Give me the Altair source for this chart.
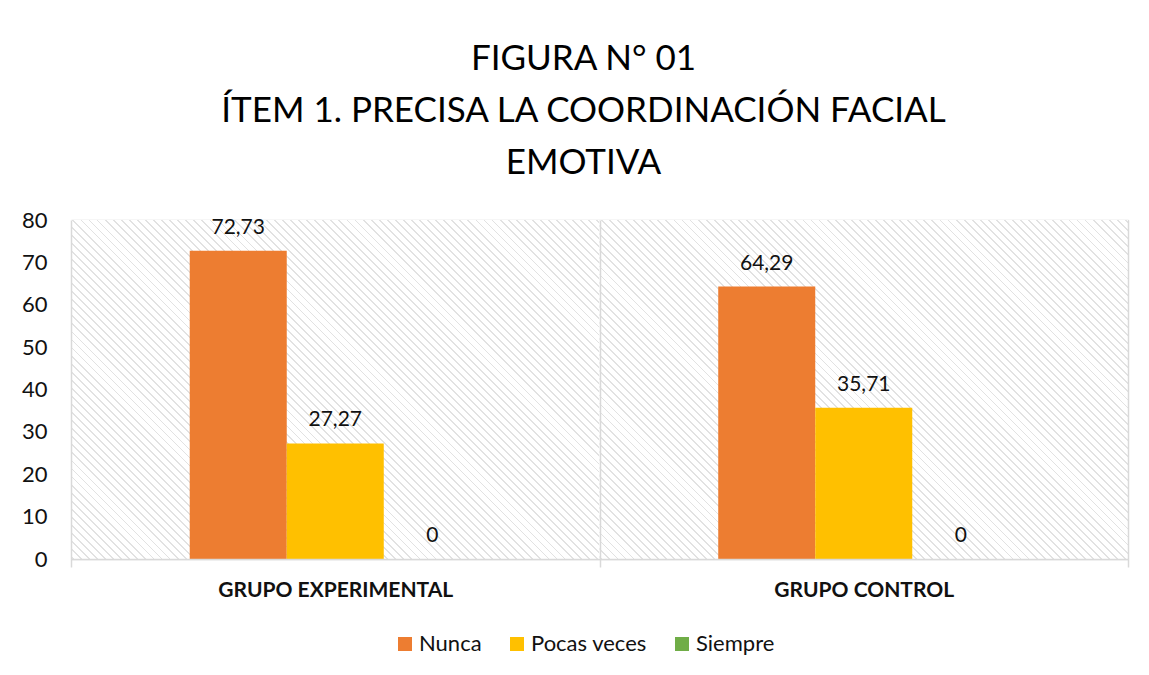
import math
import altair as alt
import pandas as pd

# ---- data ----
groups = ["GRUPO EXPERIMENTAL", "GRUPO CONTROL"]
series = ["Nunca", "Pocas veces", "Siempre"]
nunca = [72.73, 64.29]
pocas_veces = [27.27, 35.71]
siempre = [0, 0]
colors = ["#ED7D31", "#FFC000", "#70AD47"]
y_ticks = [0, 10, 20, 30, 40, 50, 60, 70, 80]
title_lines = ["FIGURA N° 01", "ÍTEM 1. PRECISA LA COORDINACIÓN FACIAL", "EMOTIVA"]

rows = []
for i, g in enumerate(groups):
    for s, vals in zip(series, [nunca, pocas_veces, siempre]):
        v = vals[i]
        lab = "0" if v == 0 else f"{v:.2f}".replace(".", ",")
        rows.append({"group": g, "serie": s, "value": v, "label": lab})
df = pd.DataFrame(rows)

bg = pd.DataFrame({"group": groups, "top": [max(y_ticks)] * len(groups), "bottom": [0] * len(groups)})

# ---- layout ----
PLOT_W, PLOT_H = 1057, 339
FONT = "Lato"
GRID = "#d9d9d9"
TXT = "#111111"

# diagonal hatch for the plot background, built as a striped linear gradient
W, H = PLOT_W / 2, PLOT_H
gx, gy = 1 / H, -1 / W
lam = (gx - gy) / (gx * gx + gy * gy)
x1, y1 = 0.0, 1.0
x2, y2 = x1 + lam * gx, y1 + lam * gy
D = (W + H) / math.sqrt(2)
period, stripe = 5.7, 1.3
stops = [alt.GradientStop(color="#ffffff", offset=0)]
k = 0
while True:
    t0 = (k * period + 1.0) / D
    t1 = t0 + stripe / D
    if t1 >= 1:
        break
    stops += [
        alt.GradientStop(color="#ffffff", offset=t0),
        alt.GradientStop(color="#e2e2e2", offset=t0),
        alt.GradientStop(color="#e2e2e2", offset=t1),
        alt.GradientStop(color="#ffffff", offset=t1),
    ]
    k += 1
stops.append(alt.GradientStop(color="#ffffff", offset=1))
hatch = alt.LinearGradient(gradient="linear", stops=stops, x1=x1, y1=y1, x2=x2, y2=y2)

x_enc = alt.X(
    "group:N",
    sort=groups,
    scale=alt.Scale(paddingInner=0, paddingOuter=0),
    axis=alt.Axis(
        title=None,
        labelAngle=0,
        labelFont=FONT,
        labelFontWeight="bold",
        labelFontSize=21,
        labelColor=TXT,
        labelPadding=12,
        labelLimit=0,
        tickBand="extent",
        ticks=True,
        tickSize=8,
        tickColor=GRID,
        tickWidth=1.5,
        grid=True,
        gridColor=GRID,
        gridWidth=1.5,
        domainColor=GRID,
        domainWidth=1.5,
    ),
)
y_scale = alt.Scale(domain=[0, 80], nice=False)
# empty slots either side of the three bars keep the cluster centred in its group
offset_domain = ["_left"] + series + ["_right"]
xoff = alt.XOffset(
    "serie:N", scale=alt.Scale(domain=offset_domain, paddingInner=0, paddingOuter=0.224)
)

background = alt.Chart(bg).mark_rect(fill=hatch, strokeWidth=0).encode(
    x=x_enc,
    y=alt.Y(
        "top:Q",
        scale=y_scale,
        axis=alt.Axis(
            title=None,
            values=y_ticks,
            labelFont=FONT,
            labelFontSize=22,
            labelColor=TXT,
            labelPadding=24,
            ticks=False,
            tickSize=0,
            domain=False,
            grid=True,
            gridColor=GRID,
            gridWidth=1.5,
        ),
    ),
    y2="bottom:Q",
)

bars = alt.Chart(df).mark_bar(strokeWidth=0).encode(
    x=x_enc,
    xOffset=xoff,
    y=alt.Y("value:Q", scale=y_scale),
    color=alt.Color(
        "serie:N",
        sort=series,
        scale=alt.Scale(domain=series, range=colors),
        legend=alt.Legend(
            title=None,
            orient="none",
            direction="horizontal",
            legendX=323,
            legendY=413,
            symbolType="square",
            symbolSize=196,
            symbolStrokeWidth=0,
            labelFont=FONT,
            labelFontSize=22,
            labelColor=TXT,
            labelOffset=3,
            columnPadding=24,
        ),
    ),
)

labels = alt.Chart(df).mark_text(
    font=FONT, fontSize=21, color=TXT, baseline="alphabetic", dy=-17
).encode(
    x=x_enc,
    xOffset=xoff,
    y=alt.Y("value:Q", scale=y_scale),
    text="label:N",
)

chart = (
    alt.layer(background, bars, labels)
    .properties(
        width=PLOT_W,
        height=PLOT_H,
        autosize=alt.AutoSizeParams(type="none"),
        padding={"left": 63, "top": 212, "right": 13, "bottom": 100},
        title=alt.TitleParams(
            text=title_lines,
            font=FONT,
            fontSize=35,
            fontWeight="normal",
            color="#000000",
            lineHeight=52,
            anchor="middle",
            dx=-16,
            offset=28,
        ),
    )
    .configure_view(stroke=GRID, strokeWidth=1.5)
    .configure(background="#ffffff")
)

chart.save("out.html", embed_options={"renderer": "svg", "actions": False})
